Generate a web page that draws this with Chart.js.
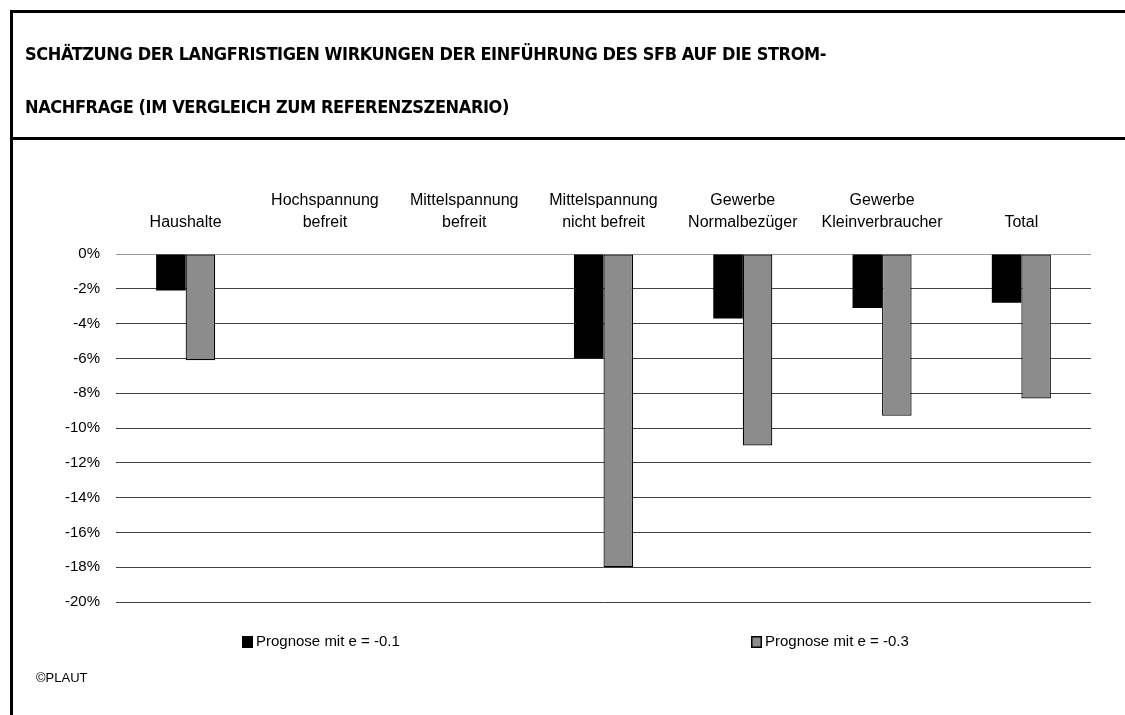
<!DOCTYPE html>
<html>
<head>
<meta charset="utf-8">
<script src="https://cdn.jsdelivr.net/npm/chart.js@4.4.1/dist/chart.umd.min.js"></script>
<style>
  html, body { margin: 0; padding: 0; background: #fff; }
  #wrap { position: relative; width: 1125px; height: 715px; overflow: hidden; background: #fff; }
  #c { position: absolute; left: 0; top: 0; }
  .ln { position: absolute; background: #000; }
  #title { position: absolute; left: 25px; top: 27px; font-family: "DejaVu Sans Condensed", "DejaVu Sans", sans-serif; font-weight: bold; font-stretch: condensed; font-size: 18px; letter-spacing: -0.4px; line-height: 53px; color: #000; white-space: nowrap; }
  #copy { position: absolute; left: 36px; top: 670px; font-family: "Liberation Sans", Arial, sans-serif; font-size: 13px; color: #000; }
</style>
</head>
<body>
<div id="wrap">
  <canvas id="c" width="1125" height="715"></canvas>
  <div class="ln" style="left:10px; top:10px; width:1115px; height:3px;"></div>
  <div class="ln" style="left:10px; top:10px; width:3px; height:705px;"></div>
  <div class="ln" style="left:10px; top:137px; width:1115px; height:3px;"></div>
  <div id="title">SCHÄTZUNG DER LANGFRISTIGEN WIRKUNGEN DER EINFÜHRUNG DES SFB AUF DIE STROM-<br>NACHFRAGE (IM VERGLEICH ZUM REFERENZSZENARIO)</div>
  <div id="copy">©PLAUT</div>
</div>
<script>
// ---- data ----
const categories = [
  'Haushalte',
  ['Hochspannung', 'befreit'],
  ['Mittelspannung', 'befreit'],
  ['Mittelspannung', 'nicht befreit'],
  ['Gewerbe', 'Normalbezüger'],
  ['Gewerbe', 'Kleinverbraucher'],
  'Total'
];
const seriesNames = ['Prognose mit e = -0.1', 'Prognose mit e = -0.3'];
const progE01 = [-2.1, 0, 0, -6.0, -3.7, -3.1, -2.8];
const progE03 = [-6.1, 0, 0, -18.0, -11.0, -9.3, -8.3];
const yMin = -20, yMax = 0, yStep = 2;

const FONT = '"Liberation Sans", Arial, sans-serif';

const legendPlugin = {
  id: 'customLegend',
  afterDraw(chart) {
    const ctx = chart.ctx;
    const xs = [242, 751];
    const y = 642;
    ctx.save();
    ctx.font = '15px ' + FONT;
    ctx.textBaseline = 'middle';
    ctx.textAlign = 'left';
    chart.data.datasets.forEach((ds, i) => {
      const x = xs[i];
      ctx.fillStyle = ds.backgroundColor;
      ctx.fillRect(x, y - 6, 11, 12);
      if (ds.borderWidth) {
        ctx.strokeStyle = '#000';
        ctx.lineWidth = 1.5;
        ctx.strokeRect(x + 0.75, y - 5.25, 9.5, 10.5);
      }
      ctx.fillStyle = '#000';
      ctx.fillText(ds.label, x + 14, y);
    });
    ctx.restore();
  }
};

new Chart(document.getElementById('c'), {
  type: 'bar',
  data: {
    labels: categories,
    datasets: [
      { label: seriesNames[0], data: progE01, backgroundColor: '#000000', borderWidth: 0,
        categoryPercentage: 0.424, barPercentage: 1.0 },
      { label: seriesNames[1], data: progE03, backgroundColor: '#8c8c8c', borderColor: '#000000', borderWidth: 1.2,
        borderSkipped: false, categoryPercentage: 0.424, barPercentage: 1.0 }
    ]
  },
  options: {
    responsive: false,
    animation: false,
    layout: { padding: { left: 0, top: 150, right: 34, bottom: 113 } },
    plugins: {
      legend: { display: false },
      tooltip: { enabled: false },
      title: { display: false }
    },
    scales: {
      x: {
        position: 'top',
        grid: { display: false, drawTicks: false },
        border: { display: false },
        ticks: {
          color: '#000',
          font: { family: FONT, size: 16, lineHeight: 1.4 },
          padding: 20,
          maxRotation: 0,
          autoSkip: false
        },
        afterFit: (s) => { s.height = 104; }
      },
      y: {
        min: yMin,
        max: yMax,
        grid: {
          color: (c) => (c.tick && c.tick.value === 0) ? '#9a9a9a' : '#404040',
          lineWidth: 1,
          drawTicks: false
        },
        border: { display: false },
        ticks: {
          stepSize: yStep,
          color: '#000',
          font: { family: FONT, size: 15 },
          padding: 16,
          callback: (v) => v + '%'
        },
        afterFit: (s) => { s.width = 116; }
      }
    }
  },
  plugins: [legendPlugin]
});
</script>
</body>
</html>
